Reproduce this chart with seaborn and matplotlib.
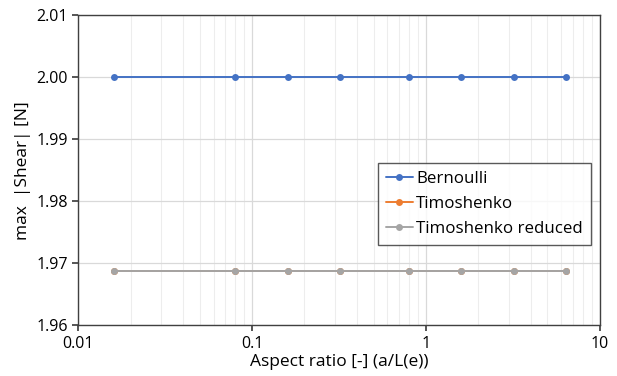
import matplotlib.pyplot as plt
import matplotlib.ticker as mticker
import pandas as pd
import seaborn as sns

# aspect ratios (a/L(e)) and max |shear| for each model
aspect_ratio = [0.016, 0.08, 0.16, 0.32, 0.8, 1.6, 3.2, 6.4]
bernoulli = [2.0, 2.0, 2.0, 2.0, 2.0, 2.0, 2.0, 2.0]
timoshenko = [1.96875, 1.96875, 1.96875, 1.96875, 1.96875, 1.96875, 1.96875, 1.96875]
timoshenko_red = [1.96875, 1.96875, 1.96875, 1.96875, 1.96875, 1.96875, 1.96875, 1.96875]
series_names = ["Bernoulli", "Timoshenko", "Timoshenko reduced"]
colors = ["#4472C4", "#ED7D31", "#A5A5A5"]

df = pd.DataFrame({
    "ratio": aspect_ratio * 3,
    "shear": bernoulli + timoshenko + timoshenko_red,
    "model": [n for n in series_names for _ in aspect_ratio],
})

sns.set_theme(style="white")
plt.rcParams["font.family"] = ["Open Sans", "DejaVu Sans"]

fig, ax = plt.subplots(figsize=(6.17, 3.76), dpi=100)
fig.subplots_adjust(left=0.127, right=0.972, top=0.96, bottom=0.135)

sns.lineplot(data=df, x="ratio", y="shear", hue="model", hue_order=series_names,
             palette=colors, marker="o", markersize=5, markeredgewidth=0,
             linewidth=1.4, ax=ax)

ax.set_xscale("log")
ax.set_xlim(0.01, 10)
ax.set_ylim(1.96, 2.01)
ax.yaxis.set_major_locator(mticker.MultipleLocator(0.01))
ax.yaxis.set_major_formatter(mticker.FormatStrFormatter("%.2f"))
ax.xaxis.set_major_locator(mticker.LogLocator(base=10))
ax.xaxis.set_major_formatter(mticker.FuncFormatter(lambda v, _: f"{v:g}"))
ax.xaxis.set_minor_locator(mticker.LogLocator(base=10, subs=range(2, 10)))
ax.xaxis.set_minor_formatter(mticker.NullFormatter())

ax.grid(which="major", color="#D9D9D9", linewidth=0.9)
ax.grid(which="minor", axis="x", color="#EDEDED", linewidth=0.8)
ax.set_axisbelow(True)

for s in ax.spines.values():
    s.set_color("#404040")
    s.set_linewidth(1.0)

ax.tick_params(axis="both", which="major", labelsize=11.5, colors="#404040",
               labelcolor="black", length=4, direction="out", bottom=True, left=True)
ax.tick_params(axis="x", which="minor", length=0)

ax.set_xlabel("Aspect ratio [-] (a/L(e))", fontsize=12.5, labelpad=2, color="black")
ax.set_ylabel("max  |Shear| [N]", fontsize=12.5, labelpad=4, color="black")

leg = ax.legend(loc="upper right", bbox_to_anchor=(0.999, 0.55), fontsize=12.2,
                frameon=True, fancybox=False, edgecolor="#303030",
                borderpad=0.45, labelspacing=0.55, handlelength=1.6, handletextpad=0.2)
leg.get_frame().set_linewidth(1.0)
for t in leg.get_texts():
    t.set_color("black")

fig.savefig("out.png", dpi=100)
